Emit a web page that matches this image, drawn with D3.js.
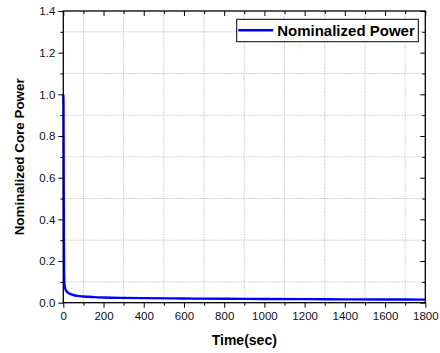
<!DOCTYPE html>
<html>
<head>
<meta charset="utf-8">
<script src="https://cdn.jsdelivr.net/npm/d3@7"></script>
<style>
  body { margin: 0; background: #fff; }
  svg { display: block; }
</style>
</head>
<body>
<div id="chart"></div>
<script>
// 数据：时间(秒) 与 归一化功率
const timeSec = [0, 1, 2, 3, 4, 5, 6, 8, 10, 15, 20, 30, 40, 50, 70, 100, 150, 200, 300, 400, 600, 800, 1000, 1200, 1400, 1600, 1800]
const power = [1.0, 0.95, 0.6, 0.3, 0.15, 0.1, 0.085, 0.075, 0.066, 0.057, 0.051, 0.044, 0.04, 0.037, 0.033, 0.03, 0.027, 0.025, 0.023, 0.022, 0.02, 0.019, 0.018, 0.017, 0.016, 0.0155, 0.015]
const xTicks = [0, 200, 400, 600, 800, 1000, 1200, 1400, 1600, 1800]
const yTicks = [0.0, 0.2, 0.4, 0.6, 0.8, 1.0, 1.2, 1.4]
const seriesName = 'Nominalized Power'

const width = 440
const height = 353
const margin = { left: 63.3, right: 14.7, top: 11, bottom: 50.3 }
const font = 'Liberation Sans, Arial, Helvetica, sans-serif'

const svg = d3.select('#chart').append('svg')
    .attr('width', width)
    .attr('height', height)

const x = d3.scaleLinear()
    .domain([0, 1800])
    .range([margin.left, width - margin.right])
const y = d3.scaleLinear()
    .domain([0, 1.4])
    .range([height - margin.bottom, margin.top])

const x0 = x.range()[0], x1 = x.range()[1]
const y0 = y.range()[0], y1 = y.range()[1]

// 次刻度位置
const xMinor = d3.range(100, 1800, 200)
const yMinor = d3.range(0.1, 1.4, 0.2)

// 网格线（虚线，仅次刻度）
const grid = svg.append('g')
    .attr('stroke', '#b4b4b4')
    .attr('stroke-width', 0.8)
    .attr('stroke-dasharray', '1.2,1.2')
grid.selectAll('.gx')
    .data(xMinor)
    .enter()
    .append('line')
    .attr('x1', d => x(d)).attr('x2', d => x(d))
    .attr('y1', y1).attr('y2', y0)
grid.selectAll('.gy')
    .data(yMinor)
    .enter()
    .append('line')
    .attr('x1', x0).attr('x2', x1)
    .attr('y1', d => y(d)).attr('y2', d => y(d))

// 曲线
const line = d3.line()
    .x((d, i) => x(timeSec[i]))
    .y(d => y(d))
    .curve(d3.curveMonotoneX)
svg.append('path')
    .datum(power)
    .attr('fill', 'none')
    .attr('stroke', '#0000ff')
    .attr('stroke-width', 2.4)
    .attr('stroke-linejoin', 'round')
    .attr('d', line)

// 坐标轴
function styleAxis (g) {
    g.selectAll('.domain').remove()
    g.selectAll('line').attr('stroke', '#000').attr('stroke-width', 1)
    g.selectAll('text')
        .attr('font-family', font)
        .attr('font-size', '11.5px')
        .attr('fill', '#111')
}

const xAll = xTicks.concat(xMinor).sort((a, b) => a - b)
const yAll = yTicks.concat(yMinor).sort((a, b) => a - b)
const isMajorX = d => xTicks.indexOf(d) >= 0
const isMajorY = d => yTicks.some(t => Math.abs(t - d) < 1e-9)

// 底部
const gx = svg.append('g')
    .attr('transform', `translate(0, ${y0})`)
    .call(d3.axisBottom(x).tickValues(xTicks).tickSize(5).tickPadding(4).tickFormat(d3.format('d')))
styleAxis(gx)
svg.append('g')
    .attr('transform', `translate(0, ${y0})`)
    .call(d3.axisBottom(x).tickValues(xMinor).tickSize(3).tickFormat(''))
    .call(styleAxis)

// 左侧
const gy = svg.append('g')
    .attr('transform', `translate(${x0}, 0)`)
    .call(d3.axisLeft(y).tickValues(yTicks).tickSize(5).tickPadding(3).tickFormat(d3.format('.1f')))
styleAxis(gy)
svg.append('g')
    .attr('transform', `translate(${x0}, 0)`)
    .call(d3.axisLeft(y).tickValues(yMinor).tickSize(3).tickFormat(''))
    .call(styleAxis)

// 顶部和右侧（向内刻度）
svg.append('g')
    .attr('transform', `translate(0, ${y1})`)
    .call(d3.axisBottom(x).tickValues(xAll).tickSizeInner(0).tickSizeOuter(0).tickFormat(''))
    .call(styleAxis)
    .selectAll('.tick line')
    .attr('y2', d => isMajorX(d) ? 5 : 3)
svg.append('g')
    .attr('transform', `translate(${x1}, 0)`)
    .call(d3.axisLeft(y).tickValues(yAll).tickSizeInner(0).tickSizeOuter(0).tickFormat(''))
    .call(styleAxis)
    .selectAll('.tick line')
    .attr('x2', d => isMajorY(d) ? -5 : -3)

// 边框
svg.append('rect')
    .attr('x', x0)
    .attr('y', y1)
    .attr('width', x1 - x0)
    .attr('height', y0 - y1)
    .attr('fill', 'none')
    .attr('stroke', '#000')
    .attr('stroke-width', 1.3)

// 轴标题
svg.append('text')
    .attr('x', (x0 + x1) / 2)
    .attr('y', 345)
    .attr('text-anchor', 'middle')
    .attr('font-family', font)
    .attr('font-weight', 'bold')
    .attr('font-size', '14px')
    .text('Time(sec)')

svg.append('text')
    .attr('transform', `translate(24, ${(y0 + y1) / 2}) rotate(-90)`)
    .attr('text-anchor', 'middle')
    .attr('font-family', font)
    .attr('font-weight', 'bold')
    .attr('font-size', '13.4px')
    .text('Nominalized Core Power')

// 图例
const legend = svg.append('g').attr('transform', 'translate(236.7, 19.3)')
legend.append('rect')
    .attr('width', 181.6)
    .attr('height', 22.4)
    .attr('fill', '#fff')
    .attr('stroke', '#000')
    .attr('stroke-width', 1)
legend.append('line')
    .attr('x1', 1.5).attr('x2', 36.5)
    .attr('y1', 11).attr('y2', 11)
    .attr('stroke', '#0000ff')
    .attr('stroke-width', 2.4)
legend.append('text')
    .attr('x', 40.5)
    .attr('y', 16.6)
    .attr('font-family', font)
    .attr('font-weight', 'bold')
    .attr('font-size', '15px')
    .text(seriesName)
</script>
</body>
</html>
